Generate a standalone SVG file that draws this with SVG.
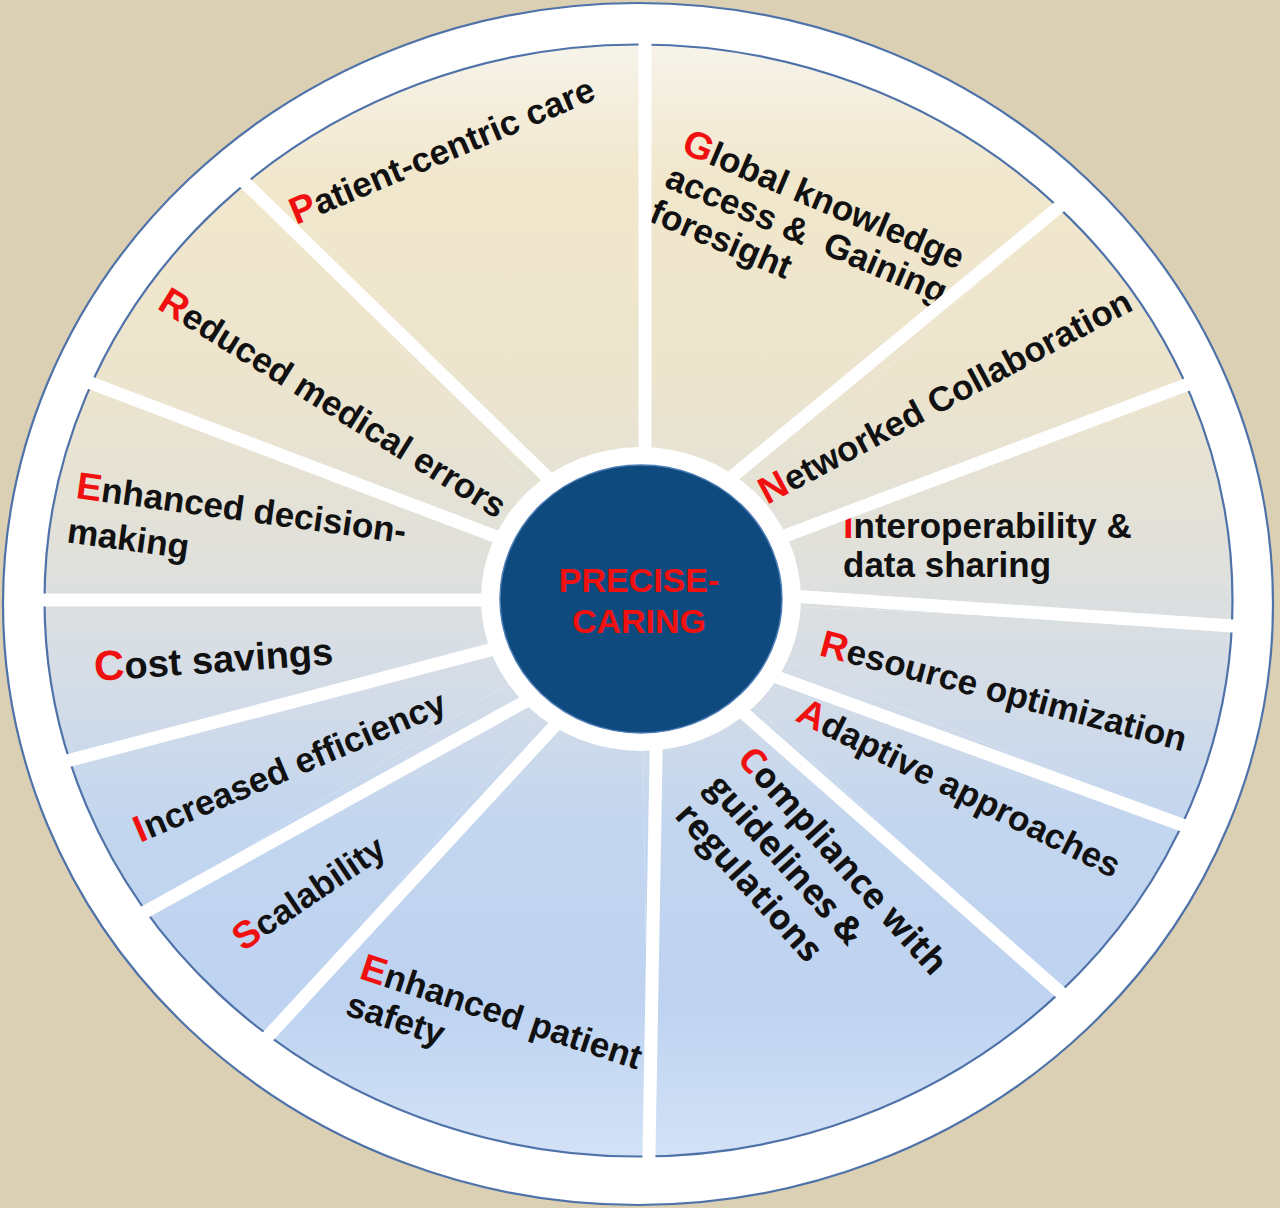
<svg xmlns="http://www.w3.org/2000/svg" width="1280" height="1208" viewBox="0 0 1280 1208">
<defs>
<linearGradient id="seg" gradientUnits="userSpaceOnUse" x1="0" y1="44" x2="0" y2="1157">
<stop offset="0" stop-color="#f6f3ea"/>
<stop offset="0.12" stop-color="#f1e7cc"/>
<stop offset="0.3" stop-color="#ece4cd"/>
<stop offset="0.45" stop-color="#e1e1da"/>
<stop offset="0.56" stop-color="#d6dde6"/>
<stop offset="0.7" stop-color="#c3d6ef"/>
<stop offset="0.86" stop-color="#bed3f1"/>
<stop offset="1" stop-color="#d3e2f6"/>
</linearGradient>
<style>
.seg { fill: url(#seg); }
.t { font-family: "Liberation Sans", Arial, sans-serif; font-weight: bold; font-size: 35px; fill: #111; }
.c { font-family: "Open Sans", "Liberation Sans", sans-serif; font-weight: bold; font-size: 35px; fill: #111; }
.r { fill: #f01010; font-size: 38px; }
.div line { stroke: #ffffff; stroke-width: 13; }
</style>
</defs>
<rect x="0" y="0" width="1280" height="1208" fill="#dbd0b3"/>
<g id="frame">
<ellipse cx="638" cy="604" rx="635" ry="601" fill="#ffffff" stroke="#4f72a8" stroke-width="2.2"/>
</g>
<g id="n-patient">
<path class="seg" d="M641,600 L245.7,183.4 A594,556 0 0 1 644.7,44.5 Z"/>
<text class="t" transform="translate(296,225) rotate(-22.7)"><tspan class="r">P</tspan>atient-centric care</text>
</g>
<g id="n-global">
<path class="seg" d="M641,600 L644.7,44.5 A594,556 0 0 1 1058.5,207.4 Z"/>
<text class="t" transform="translate(680,152) rotate(23)" xml:space="preserve"><tspan x="0" y="0"><tspan class="r">G</tspan>lobal knowledge</tspan><tspan x="-2" y="38">access &amp;  Gaining</tspan><tspan x="-3" y="76">foresight</tspan></text>
</g>
<g id="n-networked">
<path class="seg" d="M641,600 L1058.5,207.4 A594,556 0 0 1 1186,385 Z"/>
<text class="t" transform="translate(767,505) rotate(-28)"><tspan class="r">N</tspan>etworked Collaboration</text>
</g>
<g id="n-interop">
<path class="seg" d="M641,600 L1186,385 A594,556 0 0 1 1231.9,626 Z"/>
<text class="t"><tspan x="843" y="538"><tspan class="r">I</tspan>nteroperability &amp;</tspan><tspan x="843" y="577">data sharing</tspan></text>
</g>
<g id="n-resource">
<path class="seg" d="M641,600 L1231.9,626 A594,556 0 0 1 1182,825 Z"/>
<text class="t" transform="translate(818,655) rotate(14.8)"><tspan class="r">R</tspan>esource optimization</text>
</g>
<g id="n-adaptive">
<path class="seg" d="M641,600 L1182,825 A594,556 0 0 1 1060,992 Z"/>
<text class="t" transform="translate(794,720) rotate(26.4)"><tspan class="r">A</tspan>daptive approaches</text>
</g>
<g id="n-compliance">
<path class="seg" d="M641,600 L1060,992 A594,556 0 0 1 648.9,1156.4 Z"/>
<text class="c" transform="translate(736,760) rotate(48)"><tspan x="0" y="0"><tspan class="r" style="font-size:35px">C</tspan>ompliance with</tspan><tspan x="0" y="42">guidelines &amp;</tspan><tspan x="0" y="84">regulations</tspan></text>
</g>
<g id="n-safety">
<path class="seg" d="M641,600 L648.9,1156.4 A594,556 0 0 1 268.7,1035.6 Z"/>
<text class="t" transform="translate(358,978) rotate(18.2)"><tspan x="0" y="0"><tspan class="r">E</tspan>nhanced patient</tspan><tspan x="-2" y="39">safety</tspan></text>
</g>
<g id="n-scalability">
<path class="seg" d="M641,600 L268.7,1035.6 A594,556 0 0 1 146.1,911.4 Z"/>
<text class="t" transform="translate(243,952) rotate(-34)"><tspan class="r">S</tspan>calability</text>
</g>
<g id="n-efficiency">
<path class="seg" d="M641,600 L146.1,911.4 A594,556 0 0 1 69.6,760.3 Z"/>
<text class="t" transform="translate(140,843) rotate(-23)"><tspan class="r">I</tspan>ncreased efficiency</text>
</g>
<g id="n-cost">
<path class="seg" d="M641,600 L69.6,760.3 A594,556 0 0 1 44.5,600.5 Z"/>
<text class="t" style="font-size:38px" transform="translate(95,681) rotate(-4)"><tspan class="r" style="font-size:42px">C</tspan>ost savings</text>
</g>
<g id="n-decision">
<path class="seg" d="M641,600 L44.5,600.5 A594,556 0 0 1 91.7,383.3 Z"/>
<text class="t" transform="translate(75,498) rotate(7.8)"><tspan x="0" y="0"><tspan class="r">E</tspan>nhanced decision-</tspan><tspan x="-3" y="45">making</tspan></text>
</g>
<g id="n-reduced">
<path class="seg" d="M641,600 L91.7,383.3 A594,556 0 0 1 245.7,183.4 Z"/>
<text class="t" transform="translate(156,308) rotate(31.8)"><tspan class="r">R</tspan>educed medical errors</text>
</g>
<g id="rim">
<ellipse cx="638.5" cy="600.5" rx="594" ry="556" fill="none" stroke="#4f72a8" stroke-width="2.2"/>
</g>
<g id="connectors" class="div">
<line x1="645" y1="36" x2="645" y2="480"/>
<line x1="1064.7" y1="202.3" x2="714.2" y2="491.4"/>
<line x1="1193.5" y1="382.2" x2="749.6" y2="549.1"/>
<line x1="1240" y1="626.5" x2="750.1" y2="593.3"/>
<line x1="1189.5" y1="827.7" x2="747.4" y2="666.3"/>
<line x1="1066" y1="997.3" x2="725" y2="696.6"/>
<line x1="648.8" y1="1164.4" x2="656.7" y2="718"/>
<line x1="263.3" y1="1041.5" x2="575.1" y2="703.6"/>
<line x1="139.1" y1="915.3" x2="545" y2="690.6"/>
<line x1="61.9" y1="762.3" x2="536.7" y2="637.8"/>
<line x1="36.5" y1="600" x2="520" y2="600"/>
<line x1="84.2" y1="380.5" x2="542.4" y2="554.2"/>
<line x1="240" y1="177.8" x2="573.6" y2="502.9"/>
</g>
<g id="center">
<ellipse cx="641" cy="599" rx="160" ry="152" fill="#ffffff"/>
<ellipse cx="641" cy="599" rx="141" ry="134" fill="#0f4a7f" stroke="#4d7db5" stroke-width="1.5"/>
<text font-family="'Liberation Sans', Arial, sans-serif" font-weight="bold" font-size="34" fill="#f01010" text-anchor="middle"><tspan x="639" y="592">PRECISE-</tspan><tspan x="639" y="633">CARING</tspan></text>
</g>
</svg>
